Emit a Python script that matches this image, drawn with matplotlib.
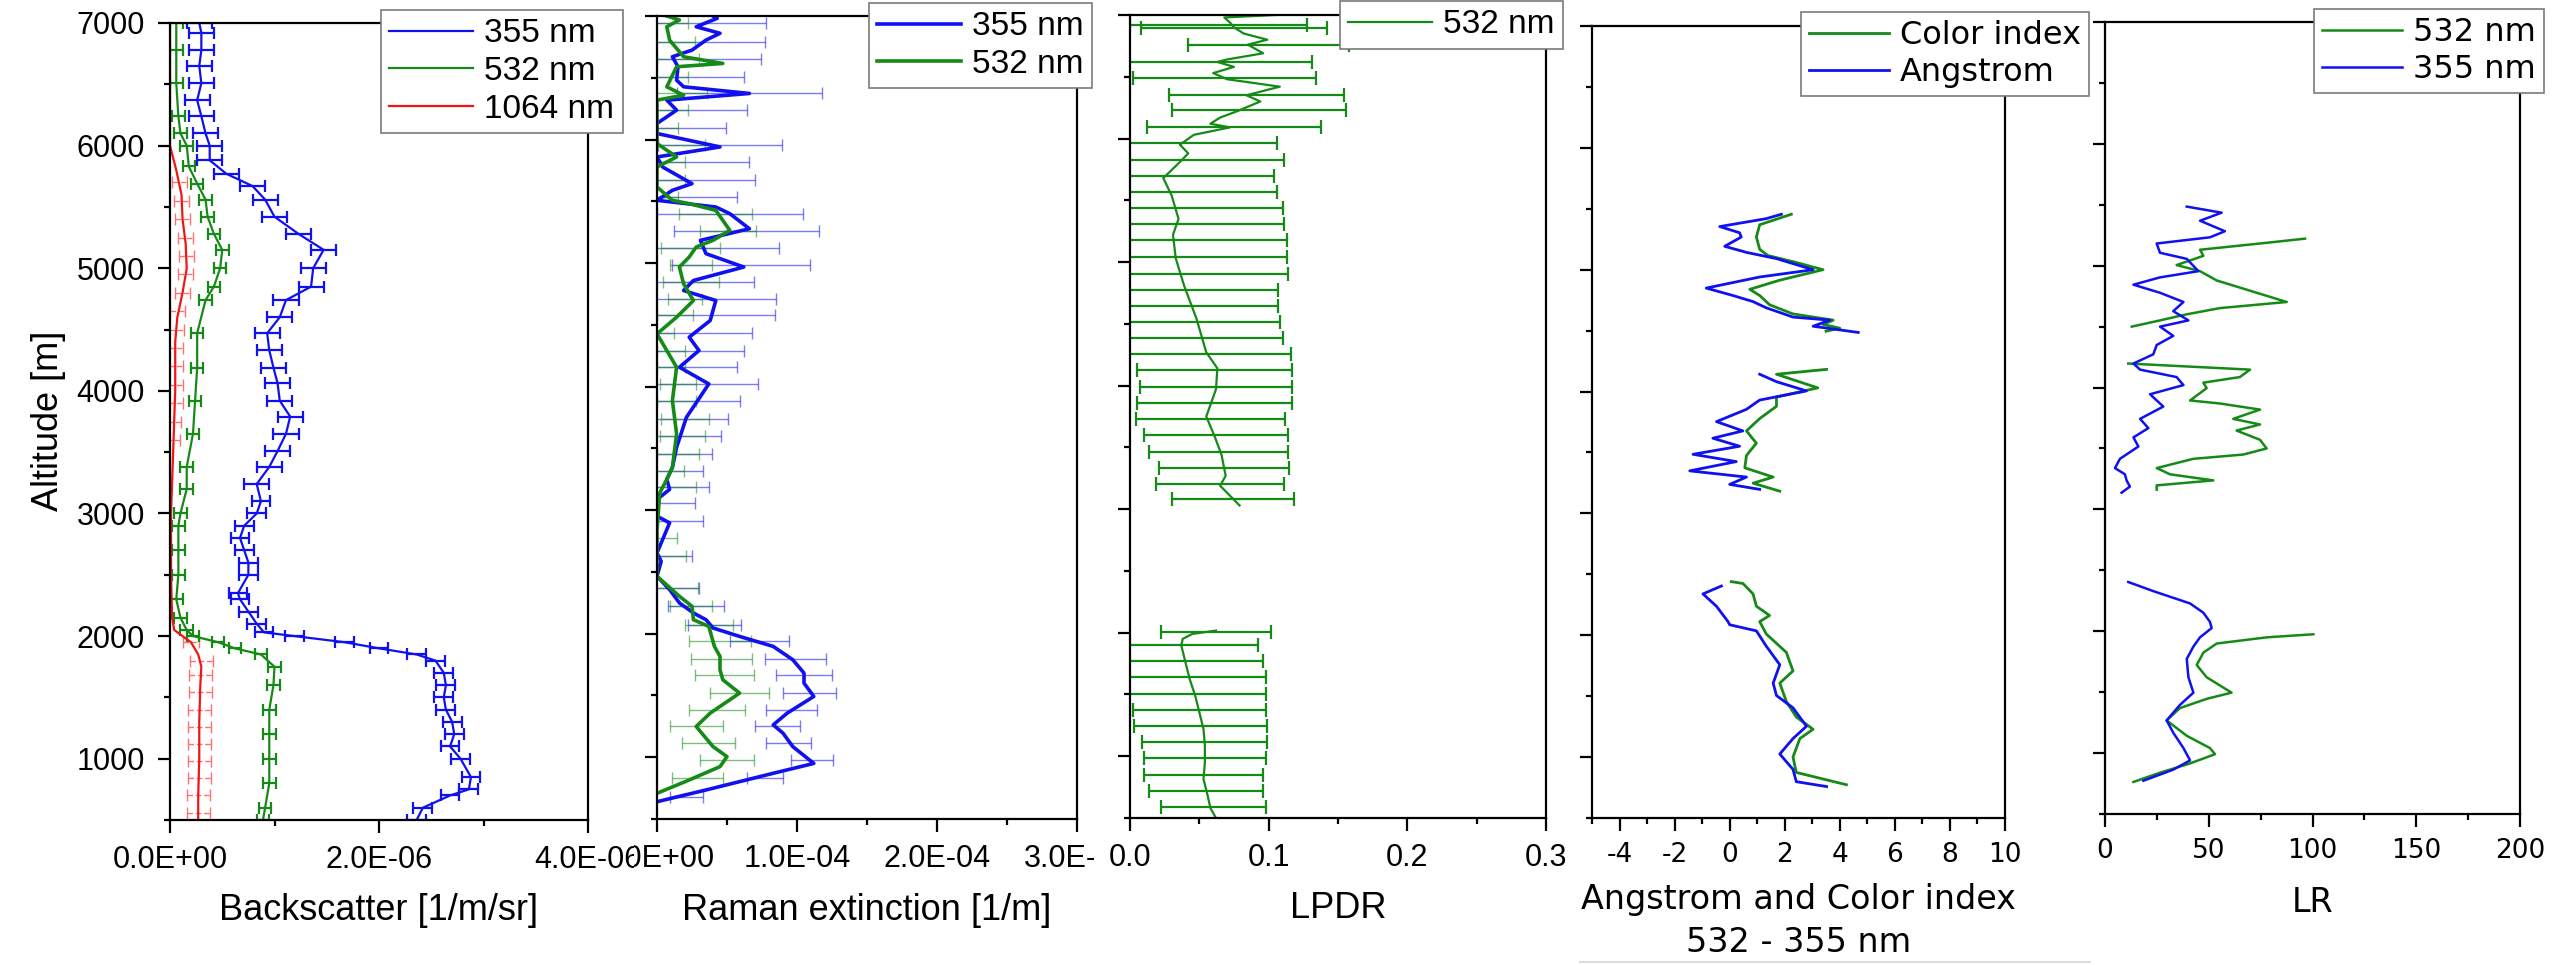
import numpy as np
import matplotlib
matplotlib.use("Agg")
import matplotlib.pyplot as plt
from matplotlib.ticker import MultipleLocator, FormatStrFormatter
from matplotlib.transforms import Bbox, TransformedBbox
from matplotlib.lines import Line2D

nan = np.nan

# ---- Panel 1: backscatter (values in 1e-6 1/m/sr) ----
alt_b355 = [500, 600, 700, 750, 850, 1000, 1100, 1200, 1300, 1400, 1500, 1600, 1700, 1800, 1850,
            1900, 1950, 2000, 2030, 2100, 2200, 2300, 2350, 2500, 2600, 2700, 2800, 2900, 3000,
            3100, 3240, 3380, 3510, 3650, 3790, 3920, 4060, 4190, 4330, 4470, 4600, 4740, 4850,
            5000, 5150, 5280, 5420, 5560, 5670, 5770, 5880, 6000, 6100, 6240, 6370, 6510, 6650,
            6780, 6920, 7000]
b355 = [2.36, 2.42, 2.68, 2.86, 2.88, 2.78, 2.68, 2.72, 2.70, 2.64, 2.62, 2.64, 2.62, 2.54, 2.36,
        2.00, 1.67, 1.19, 0.90, 0.83, 0.75, 0.67, 0.65, 0.75, 0.75, 0.71, 0.67, 0.71, 0.83,
        0.87, 0.83, 0.95, 1.03, 1.11, 1.15, 1.05, 1.03, 0.99, 0.95, 0.93, 1.05, 1.11, 1.35,
        1.37, 1.47, 1.23, 1.00, 0.91, 0.79, 0.54, 0.38, 0.38, 0.34, 0.30, 0.26, 0.30, 0.28,
        0.30, 0.30, 0.28]
b355_err = [0.09] * 30 + [0.12] * 30

alt_b532 = [500, 600, 800, 1000, 1200, 1400, 1600, 1750, 1850, 1900, 1950, 2000, 2050, 2150, 2300,
            2500, 2700, 2900, 3000, 3200, 3380, 3650, 3920, 4190, 4470, 4740, 4850, 5000, 5150,
            5280, 5420, 5560, 5690, 5830, 6000, 6100, 6240, 6510, 6780, 7000]
b532 = [0.89, 0.91, 0.95, 0.95, 0.95, 0.95, 0.99, 1.00, 0.87, 0.62, 0.46, 0.22, 0.16, 0.10, 0.06,
        0.08, 0.08, 0.08, 0.10, 0.16, 0.16, 0.22, 0.24, 0.26, 0.26, 0.34, 0.42, 0.48, 0.50,
        0.42, 0.36, 0.34, 0.26, 0.18, 0.16, 0.10, 0.08, 0.06, 0.06, 0.06]
b532_err = [0.06] * 40

alt_b1064 = [500, 700, 1000, 1300, 1600, 1750, 1850, 1950, 2000, 2050, 2150, 2500, 3000, 3500, 4000,
             4400, 4600, 4800, 5000, 5200, 5400, 5600, 5800, 6000, 6500, 7000]
b1064 = [0.27, 0.27, 0.28, 0.28, 0.29, 0.30, 0.27, 0.20, 0.12, 0.04, 0.02, 0.01, 0.01, 0.03, 0.05,
         0.05, 0.07, 0.12, 0.16, 0.15, 0.12, 0.11, 0.06, 0.0, 0.0, 0.0]
alt_b1064_bar = [560, 700, 840, 980, 1120, 1260, 1400, 1540, 1680, 1800, 1950, 3600, 3750, 3900,
                 4050, 4200, 4350, 4500, 4650, 4800, 4950, 5100, 5250, 5400, 5550, 5700]
b1064_bar = [0.27, 0.27, 0.28, 0.28, 0.28, 0.28, 0.28, 0.29, 0.29, 0.30, 0.20, 0.03, 0.04, 0.05,
             0.05, 0.05, 0.05, 0.06, 0.07, 0.12, 0.15, 0.16, 0.15, 0.12, 0.11, 0.09]
b1064_err = [0.11] * 10 + [0.08] + [0.07] * 15

# ---- Panel 2: Raman extinction (values in 1e-4 1/m) ----
alt_e355 = [640, 735, 870, 950, 1086, 1195, 1262, 1357, 1492, 1600, 1681, 1789, 1897, 1978, 2046,
            2113, 2168, 2249, 2357, 2465, 2586, 2654, 2897, 2951, 3086, 3168, 3249, 3346, 3508,
            3751, 3886, 4022, 4157, 4292, 4400, 4535, 4697, 4778, 4859, 4968, 5076, 5184, 5278,
            5400, 5454, 5508, 5589, 5643, 5778, 5859, 5940, 6049, 6130, 6238, 6319, 6373, 6427,
            6481, 6589, 6670, 6724, 6805, 6860, 6913, 6981, 7000]
e355 = [0.00, 0.35, 0.83, 1.12, 0.97, 0.90, 0.83, 0.93, 1.12, 1.05, 1.05, 0.97, 0.83, 0.59, 0.40,
        0.35, 0.26, 0.16, 0.09, 0.00, 0.03, 0.00, 0.09, 0.00, 0.00, 0.09, 0.07, 0.11, 0.14,
        0.21, 0.29, 0.37, 0.16, 0.30, 0.23, 0.38, 0.42, 0.19, 0.26, 0.62, 0.35, 0.31, 0.66,
        0.52, 0.42, 0.00, 0.11, 0.25, 0.04, 0.00, 0.45, 0.00, 0.00, 0.14, 0.07, 0.66, 0.19,
        0.14, 0.15, 0.11, 0.25, 0.35, 0.45, 0.28, 0.43, 0.40]
alt_e532 = [708, 816, 924, 1005, 1086, 1249, 1357, 1519, 1627, 1708, 1816, 1897, 2059, 2113, 2222,
            2303, 2465, 2843, 3141, 3249, 3346, 3616, 3886, 4157, 4427, 4562, 4697, 4832, 4968,
            5049, 5130, 5184, 5265, 5346, 5427, 5481, 5508, 5616, 5778, 5859, 5968, 6319, 6359,
            6427, 6589, 6616, 6670, 6805, 6913, 6968, 7000]
e532 = [0.00, 0.23, 0.45, 0.50, 0.40, 0.28, 0.38, 0.59, 0.47, 0.45, 0.45, 0.41, 0.37, 0.26, 0.25,
        0.16, 0.00, 0.00, 0.02, 0.07, 0.11, 0.14, 0.11, 0.14, 0.00, 0.14, 0.26, 0.19, 0.16,
        0.23, 0.28, 0.40, 0.52, 0.47, 0.42, 0.23, 0.11, 0.00, 0.00, 0.14, 0.00, 0.00, 0.19,
        0.07, 0.14, 0.47, 0.19, 0.09, 0.07, 0.16, 0.07]

alt_e355_bar = [681, 830, 978, 1114, 1249, 1384, 1519, 1668, 1797, 1938, 2073, 2222, 2370, 2632,
                2911, 3054, 3184, 3319, 3454, 3603, 3738, 3886, 4022, 4157, 4292, 4432, 4576, 4711,
                4846, 4981, 5124, 5259, 5395, 5532, 5675, 5816, 5957, 6097, 6238, 6373, 6508,
                6649, 6792, 6946]
e355_bar = [0.21, 0.77, 1.11, 0.94, 0.86, 0.96, 1.09, 1.05, 0.99, 0.73, 0.41, 0.28, 0.14, 0.05,
            0.08, 0.05, 0.10, 0.10, 0.12, 0.15, 0.20, 0.28, 0.35, 0.16, 0.30, 0.25, 0.38, 0.40,
            0.26, 0.60, 0.40, 0.64, 0.52, 0.07, 0.20, 0.10, 0.45, 0.02, 0.14, 0.66, 0.14,
            0.26, 0.30, 0.28]
e355_err = [0.12, 0.13, 0.15, 0.16, 0.16, 0.18, 0.19, 0.20, 0.22, 0.21, 0.19, 0.20, 0.16, 0.20,
            0.25, 0.22, 0.27, 0.23, 0.27, 0.31, 0.31, 0.31, 0.37, 0.41, 0.32, 0.43, 0.46, 0.45,
            0.43, 0.49, 0.47, 0.52, 0.52, 0.50, 0.50, 0.56, 0.44, 0.47, 0.50, 0.52, 0.48,
            0.48, 0.47, 0.50]
alt_e532_bar = [830, 978, 1114, 1249, 1384, 1519, 1668, 1797, 1938, 2073, 2222, 2370, 2632, 2776,
                3184, 3319, 3454, 3603, 3738, 3886, 4022, 4157, 4292, 4432, 4576, 4711, 4846,
                4981, 5124, 5259, 5395, 5532, 5675, 5816, 5957, 6097, 6238, 6373, 6508, 6649,
                6792, 6946]
e532_bar = [0.29, 0.50, 0.37, 0.28, 0.43, 0.59, 0.48, 0.46, 0.45, 0.37, 0.24, 0.14, 0.08, 0.03,
            0.12, 0.09, 0.15, 0.18, 0.20, 0.14, 0.15, 0.10, 0.10, 0.02, 0.13, 0.20, 0.24,
            0.24, 0.24, 0.51, 0.42, 0.05, 0.08, 0.10, 0.17, 0.05, 0.10, 0.18, 0.10, 0.15,
            0.12, 0.10]
e532_err = [0.18, 0.19, 0.19, 0.19, 0.20, 0.21, 0.21, 0.22, 0.22, 0.17, 0.15, 0.15, 0.13, 0.11,
            0.16, 0.10, 0.15, 0.16, 0.17, 0.14, 0.13, 0.10, 0.10, 0.10, 0.13, 0.12, 0.20,
            0.15, 0.21, 0.20, 0.26, 0.10, 0.12, 0.10, 0.17, 0.10, 0.12, 0.18, 0.12, 0.15,
            0.15, 0.12]

# ---- Panel 3: LPDR 532 nm ----
alt_lpdr = [3030, 3110, 3190, 3270, 3440, 3590, 3750, 3970, 4140, 4270, 4540, 4810, 5030, 5220,
            5350, 5540, 5680, 5810, 5880, 5950, 6030, 6090, 6120, 6170, 6220, 6300, 6350, 6420,
            6480, 6530, 6580, 6620, 6640, 6690, 6760, 6800, 6850, 6900, 6940, 6980, 7000,
            nan,
            500, 580, 681, 816, 950, 1086, 1220, 1356, 1490, 1626, 1760, 1896, 1950, 1990, 2017]
lpdr = [0.079, 0.072, 0.065, 0.069, 0.066, 0.061, 0.055, 0.062, 0.063, 0.055, 0.048, 0.039, 0.033,
        0.031, 0.035, 0.030, 0.024, 0.036, 0.042, 0.036, 0.046, 0.072, 0.058, 0.065, 0.077, 0.094,
        0.084, 0.108, 0.070, 0.060, 0.075, 0.063, 0.070, 0.096, 0.085, 0.099, 0.082, 0.075, 0.072,
        0.068, 0.105,
        nan,
        0.062, 0.058, 0.056, 0.053, 0.054, 0.054, 0.053, 0.050, 0.047, 0.043, 0.040, 0.037, 0.038,
        0.045, 0.062]
alt_lpdr_bar = [586, 716, 848, 983, 1113, 1242, 1377, 1504, 1639, 1774, 1904, 2004,
                3085, 3207, 3334, 3463, 3598, 3733, 3860, 3990, 4125, 4254, 4386, 4516, 4648,
                4778, 4907, 5043, 5177, 5307, 5434, 5566, 5695, 5825, 5960, 6095, 6230, 6352,
                6487, 6622, 6757, 6892, 6920]
lpdr_bar = [0.060, 0.055, 0.053, 0.054, 0.054, 0.051, 0.050, 0.047, 0.043, 0.040, 0.037, 0.062,
            0.074, 0.065, 0.068, 0.064, 0.062, 0.058, 0.061, 0.062, 0.061, 0.055, 0.052, 0.048,
            0.044, 0.039, 0.036, 0.033, 0.032, 0.034, 0.033, 0.029, 0.025, 0.036, 0.036, 0.075,
            0.093, 0.091, 0.068, 0.063, 0.100, 0.075, 0.064]
lpdr_err = [0.038, 0.041, 0.043, 0.044, 0.045, 0.048, 0.048, 0.051, 0.055, 0.056, 0.055, 0.040,
            0.044, 0.046, 0.047, 0.050, 0.052, 0.054, 0.056, 0.055, 0.056, 0.061, 0.058, 0.060,
            0.063, 0.068, 0.078, 0.080, 0.081, 0.077, 0.077, 0.077, 0.079, 0.075, 0.070, 0.063,
            0.063, 0.063, 0.066, 0.068, 0.058, 0.067, 0.064]

# ---- Panel 4: Angstrom exponent and colour index ----
alt_ci = [5455, 5369, 5268, 5167, 5116, 5066, 5000, 4914, 4839, 4788, 4712, 4637, 4586, 4551, 4520,
          4495, nan,
          4182, 4142, 4030, 3955, 3879, 3778, 3677, 3576, 3475, 3374, 3298, 3248, 3182, nan,
          2440, 2425, 2339, 2238, 2162, 2112, 2010, 1859, 1707, 1607, 1455, 1329, 1228, 1152,
          1000, 874, 773]
ci = [2.24, 1.09, 0.97, 1.09, 1.39, 2.30, 3.39, 1.82, 0.73, 1.09, 1.45, 2.30, 3.76, 3.39, 4.00,
      3.50, nan,
      3.52, 1.70, 3.20, 1.70, 1.70, 1.09, 0.61, 0.97, 0.61, 0.55, 1.58, 0.85, 1.82, nan,
      0.06, 0.48, 0.85, 0.97, 1.45, 1.09, 1.33, 2.06, 2.30, 1.82, 2.06, 2.42, 3.03, 2.55,
      2.30, 2.42, 4.24]
alt_ae = [5455, 5419, 5354, 5303, 5268, 5192, 5142, 5091, 5000, 4940, 4849, 4788, 4738, 4687, 4611,
          4586, 4536, 4485, nan,
          4142, 4081, 4005, 3930, 3854, 3753, 3677, 3617, 3551, 3485, 3425, 3349, 3298, 3238,
          3197, nan,
          2404, 2339, 2238, 2112, 2086, 2036, 1910, 1758, 1607, 1505, 1404, 1253, 1152, 1025,
          899, 798, 758]
ae = [1.88, 1.33, -0.36, 0.36, 0.42, -0.18, 0.61, 1.70, 3.03, 1.09, -0.85, 0.12, 0.85, 1.33, 2.30,
      3.64, 3.03, 4.67, nan,
      1.09, 1.70, 2.79, 1.09, 0.61, -0.48, 0.48, -0.61, 0.36, -1.33, 0.24, -1.45, 0.61, 0.00,
      1.09, nan,
      -0.30, -0.97, -0.48, -0.06, 0.00, 0.97, 1.33, 1.82, 1.58, 1.70, 2.30, 2.79, 2.30, 1.82,
      2.30, 2.42, 3.52]

# ---- Panel 5: lidar ratio ----
alt_lr532 = [5222, 5182, 5131, 5081, 5005, 4955, 4879, 4803, 4702, 4652, 4601, 4551, 4500, nan,
             4197, 4147, 4086, 4040, 3995, 3894, 3869, 3819, 3743, 3697, 3647, 3571, 3500, 3450,
             3415, 3339, 3288, 3238, 3197, 3162, nan,
             1975, 1950, 1899, 1824, 1723, 1622, 1496, 1445, 1369, 1268, 1142, 1041, 991, 915,
             839, 763]
lr532 = [96.4, 74.7, 45.8, 47.4, 34.5, 45.8, 53.8, 68.3, 87.6, 55.4, 39.4, 26.5, 12.9, nan,
         11.2, 69.9, 65.0, 47.4, 49.0, 41.0, 55.4, 74.7, 61.8, 74.7, 63.4, 74.7, 77.9, 66.6,
         42.6, 24.9, 31.3, 52.2, 24.9, 24.9, nan,
         100.4, 78.0, 53.8, 47.4, 44.2, 49.0, 61.0, 49.0, 36.1, 29.7, 39.4, 50.6, 53.0, 41.0,
         26.5, 13.7]
alt_lr355 = [5485, 5435, 5369, 5283, 5233, 5182, 5106, 5056, 4955, 4904, 4844, 4778, 4702, 4627,
             4551, 4500, 4424, 4349, 4273, 4197, 4147, 4086, 4020, 3945, 3844, 3743, 3667, 3591,
             3516, 3415, 3339, 3288, 3238, 3187, 3137, nan,
             2404, 2329, 2228, 2152, 2076, 2026, 1950, 1874, 1773, 1622, 1496, 1395, 1268, 1167,
             1041, 940, 864, 773]
lr355 = [39.4, 56.2, 45.8, 57.8, 50.6, 24.9, 26.5, 39.4, 45.0, 26.5, 13.7, 26.5, 37.8, 32.9,
         40.2, 26.5, 32.9, 24.9, 23.3, 13.7, 16.9, 34.5, 37.8, 21.7, 28.1, 16.9, 20.9, 13.7,
         16.1, 7.2, 4.8, 9.6, 10.4, 12.0, 8.0, nan,
         11.2, 23.3, 41.0, 47.4, 50.6, 51.4, 45.8, 42.6, 39.4, 40.2, 42.6, 36.1, 29.7, 32.9,
         37.8, 41.0, 32.9, 18.5]

BLUE = "#1010f0"
GREEN = "#168a16"
RED = "#f41414"
W, H = 2552, 965

plt.rcParams["font.family"] = "Liberation Sans"
plt.rcParams["axes.unicode_minus"] = False

fig = plt.figure(figsize=(W / 100, H / 100), dpi=100)


def add_panel(left, right, top, bottom):
    return fig.add_axes([left / W, 1 - bottom / H, (right - left) / W, (bottom - top) / H])


def style(ax, family, size, pad):
    for s in ax.spines.values():
        s.set_linewidth(1.6)
    ax.tick_params(which="major", length=9, width=1.6, direction="out", labelsize=size,
                   pad=pad, labelfontfamily=family)
    ax.tick_params(which="minor", length=4.5, width=1.6, direction="out")
    ax.set_ylim(500, 7000)
    ax.yaxis.set_major_locator(MultipleLocator(1000))
    ax.yaxis.set_minor_locator(MultipleLocator(500))


def add_legend(ax, x, y, family, size):
    leg = ax.legend(loc="upper left", bbox_to_anchor=(x / W, 1 - y / H),
                    bbox_transform=fig.transFigure, borderaxespad=0, fancybox=False,
                    prop={"family": family, "size": size}, handlelength=2.5,
                    handletextpad=0.35, borderpad=0.25, labelspacing=0.2, framealpha=1)
    leg.get_frame().set_edgecolor("#7a7a7a")
    leg.get_frame().set_linewidth(1.2)
    leg.set_zorder(10)
    return leg


def clip_labels(ax, x0, x1):
    # neighbouring panels cut into each other's end tick labels in the original
    box = TransformedBbox(Bbox([[x0 / W, 0], [x1 / W, 1]]), fig.transFigure)
    for lbl in ax.get_xticklabels():
        lbl.set_clip_box(box)
        lbl.set_clip_on(True)


def xlabel(ax, y, text, family, size):
    pos = ax.get_position()
    fig.text((pos.x0 + pos.x1) / 2, 1 - y / H, text, ha="center", va="center",
             family=family, fontsize=size)


# Panel 1
ax1 = add_panel(170, 588, 23, 820)
style(ax1, "Liberation Sans", 22, 9)
e = ax1.errorbar(np.array(b1064_bar) * 1e-6, alt_b1064_bar, xerr=np.array(b1064_err) * 1e-6,
                 fmt="none", ecolor="#ff7070", elinewidth=1.0, capsize=4, capthick=1.0)
e[2][0].set_linestyle((0, (4, 2)))
ax1.errorbar(np.array(b532) * 1e-6, alt_b532, xerr=np.array(b532_err) * 1e-6, fmt="none",
             ecolor=GREEN, elinewidth=1.6, capsize=4, capthick=1.6)
ax1.errorbar(np.array(b355) * 1e-6, alt_b355, xerr=np.array(b355_err) * 1e-6, fmt="none",
             ecolor=BLUE, elinewidth=1.6, capsize=4, capthick=1.6)
ax1.plot(np.array(b355) * 1e-6, alt_b355, color=BLUE, lw=1.6, label="355 nm")
ax1.plot(np.array(b532) * 1e-6, alt_b532, color=GREEN, lw=1.6, label="532 nm")
ax1.plot(np.array(b1064) * 1e-6, alt_b1064, color=RED, lw=1.6, label="1064 nm")
ax1.set_xlim(0, 4e-6)
ax1.xaxis.set_major_locator(MultipleLocator(2e-6))
ax1.xaxis.set_minor_locator(MultipleLocator(1e-6))
ax1.xaxis.set_major_formatter(FormatStrFormatter("%.1E"))
ax1.yaxis.set_major_formatter(FormatStrFormatter("%d"))
add_legend(ax1, 381, 10, "Liberation Sans", 24)
clip_labels(ax1, 0, 634)
xlabel(ax1, 910, "Backscatter [1/m/sr]", "Liberation Sans", 26)
fig.text(48 / W, 1 - 421 / H, "Altitude [m]", rotation=90, ha="center", va="center",
         fontsize=26)

# Panel 2
ax2 = add_panel(657, 1077, 16, 819)
style(ax2, "Liberation Sans", 22, 9)
ax2.errorbar(np.array(e355_bar) * 1e-4, alt_e355_bar, xerr=np.array(e355_err) * 1e-4,
             fmt="none", ecolor=BLUE, elinewidth=1.0, capsize=4, capthick=1.0, alpha=0.55)
ax2.errorbar(np.array(e532_bar) * 1e-4, alt_e532_bar, xerr=np.array(e532_err) * 1e-4,
             fmt="none", ecolor=GREEN, elinewidth=1.0, capsize=4, capthick=1.0, alpha=0.55)
ax2.plot(np.array(e355) * 1e-4, alt_e355, color=BLUE, lw=2.6, label="355 nm")
ax2.plot(np.array(e532) * 1e-4, alt_e532, color=GREEN, lw=2.6, label="532 nm")
ax2.set_xlim(0, 3e-4)
ax2.xaxis.set_major_locator(MultipleLocator(1e-4))
ax2.xaxis.set_minor_locator(MultipleLocator(0.5e-4))
ax2.xaxis.set_major_formatter(FormatStrFormatter("%.1E"))
ax2.set_yticklabels([])
add_legend(ax2, 869, 3, "Liberation Sans", 24)
clip_labels(ax2, 634, 1094)
xlabel(ax2, 911, "Raman extinction [1/m]", "Liberation Sans", 26)

# Panel 3
ax3 = add_panel(1130, 1546, 15, 818)
style(ax3, "Liberation Sans", 22, 9)
ax3.errorbar(lpdr_bar, alt_lpdr_bar, xerr=lpdr_err, fmt="none", ecolor=GREEN,
             elinewidth=1.6, capsize=5, capthick=1.6)
ax3.plot(lpdr, alt_lpdr, color=GREEN, lw=1.6, label="532 nm")
ax3.set_xlim(0, 0.3)
ax3.xaxis.set_major_locator(MultipleLocator(0.1))
ax3.xaxis.set_minor_locator(MultipleLocator(0.05))
ax3.xaxis.set_major_formatter(FormatStrFormatter("%.1f"))
ax3.set_yticklabels([])
add_legend(ax3, 1340, 1, "Liberation Sans", 24)
xlabel(ax3, 909, "LPDR", "Liberation Sans", 26)

# Panel 4
ax4 = add_panel(1592, 2005, 26, 818)
style(ax4, "DejaVu Sans", 19, 8)
ax4.plot(ci, alt_ci, color=GREEN, lw=2.0, label="Color index")
ax4.plot(ae, alt_ae, color=BLUE, lw=2.0, label="Angstrom")
ax4.set_xlim(-5, 10)
ax4.xaxis.set_major_locator(MultipleLocator(2))
ax4.xaxis.set_minor_locator(MultipleLocator(1))
ax4.xaxis.set_major_formatter(FormatStrFormatter("%d"))
ax4.set_yticklabels([])
add_legend(ax4, 1801, 12, "DejaVu Sans", 23)
xlabel(ax4, 900, "Angstrom and Color index", "DejaVu Sans", 24)
xlabel(ax4, 943, "532 - 355 nm", "DejaVu Sans", 24)
fig.add_artist(Line2D([1580 / W, 2090 / W], [1 - 962 / H, 1 - 962 / H], color="#dcdcdc", lw=1.5))

# Panel 5
ax5 = add_panel(2105, 2520, 22, 814)
style(ax5, "DejaVu Sans", 19, 8)
ax5.plot(lr532, alt_lr532, color=GREEN, lw=1.8, label="532 nm")
ax5.plot(lr355, alt_lr355, color=BLUE, lw=1.8, label="355 nm")
ax5.set_xlim(0, 200)
ax5.xaxis.set_major_locator(MultipleLocator(50))
ax5.xaxis.set_minor_locator(MultipleLocator(25))
ax5.set_yticklabels([])
add_legend(ax5, 2314, 9, "DejaVu Sans", 23)
xlabel(ax5, 903, "LR", "DejaVu Sans", 24)

fig.savefig("out.png", dpi=100)
